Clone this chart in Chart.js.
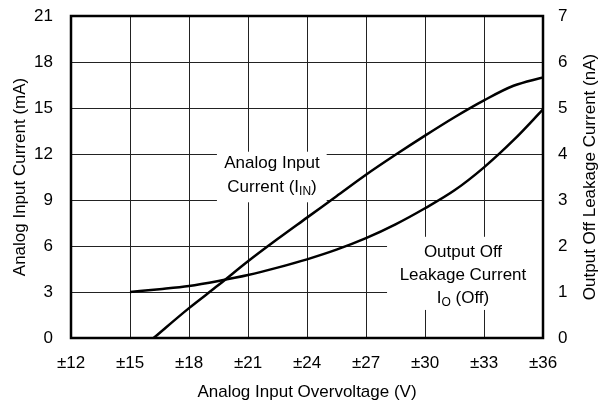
<!DOCTYPE html>
<html>
<head>
<meta charset="utf-8">
<script src="https://cdn.jsdelivr.net/npm/chart.js@4"></script>
<style>
  html, body { margin: 0; padding: 0; background: #fff; }
  #wrap { width: 602px; height: 403px; }
</style>
</head>
<body>
<div id="wrap"><canvas id="chart" width="602" height="403"></canvas></div>
<script>
// overvoltage (V) and analog input current (mA)
const inVolts = [16.2, 18, 19.5, 21, 22.5, 24, 25.5, 27, 28.5, 30, 31.5, 33, 34.5, 36];
const inCurrent = [0, 1.95, 3.45, 5.0, 6.45, 7.85, 9.25, 10.65, 11.95, 13.2, 14.4, 15.5, 16.45, 17.0];

// overvoltage (V) and output off leakage current (nA)
const offVolts = [15, 16.5, 18, 19.5, 21, 22.5, 24, 25.5, 27, 28.5, 30, 31.5, 33, 34.5, 36];
const offLeak = [1.0, 1.06, 1.13, 1.24, 1.37, 1.53, 1.71, 1.92, 2.17, 2.47, 2.82, 3.21, 3.71, 4.3, 4.97];

const xTicks = [12, 15, 18, 21, 24, 27, 30, 33, 36];
const FONT = 'Liberation Sans, Arial, Helvetica, sans-serif';

Chart.defaults.font.family = FONT;
Chart.defaults.font.size = 17;
Chart.defaults.color = '#000';

// draws a line of text where one part is a subscript, centred on cx
function drawSubText(ctx, parts, cx, cy) {
    let total = 0;
    parts.forEach(p => {
        ctx.font = (p.sub ? '12px ' : '17px ') + FONT;
        p.w = ctx.measureText(p.t).width;
        total += p.w;
    });
    let x = cx - total / 2;
    parts.forEach(p => {
        ctx.font = (p.sub ? '12px ' : '17px ') + FONT;
        ctx.textAlign = 'left';
        ctx.fillText(p.t, x, cy + (p.sub ? 5 : 0));
        x += p.w;
    });
}

const labelPlugin = {
    id: 'labels',
    beforeDatasetsDraw(chart) {
        const { ctx, scales: { x, y } } = chart;
        ctx.save();
        ctx.fillStyle = '#fff';
        // white boxes behind the curve labels
        let l = x.getPixelForValue(19.42), r = x.getPixelForValue(25.0);
        let t = y.getPixelForValue(12.15), b = y.getPixelForValue(8.85);
        ctx.fillRect(l, t, r - l, b - t);
        l = x.getPixelForValue(28.07); r = x.getPixelForValue(36);
        t = y.getPixelForValue(6.6); b = y.getPixelForValue(1.83);
        ctx.fillRect(l, t, r - l, b - t);
        ctx.restore();
    },
    afterDraw(chart) {
        const { ctx, chartArea: a, scales: { x, y } } = chart;
        ctx.save();
        ctx.fillStyle = '#000';
        ctx.textBaseline = 'middle';
        ctx.textAlign = 'center';
        ctx.font = '17px ' + FONT;

        let cx = x.getPixelForValue(22.22);
        ctx.fillText('Analog Input', cx, y.getPixelForValue(11.41));
        drawSubText(ctx, [{ t: 'Current (I' }, { t: 'IN', sub: true }, { t: ')' }],
            cx, y.getPixelForValue(9.85));

        cx = x.getPixelForValue(31.93);
        ctx.textAlign = 'center';
        ctx.font = '17px ' + FONT;
        ctx.fillText('Output Off', cx, y.getPixelForValue(5.61));
        ctx.fillText('Leakage Current', cx, y.getPixelForValue(4.11));
        drawSubText(ctx, [{ t: 'I' }, { t: 'O', sub: true }, { t: ' (Off)' }],
            cx, y.getPixelForValue(2.61));

        // right axis title, reading bottom to top
        ctx.translate(590, (a.top + a.bottom) / 2);
        ctx.rotate(-Math.PI / 2);
        ctx.textAlign = 'center';
        ctx.font = '17px ' + FONT;
        ctx.fillText('Output Off Leakage Current (nA)', 0, 0);
        ctx.restore();

        // frame
        ctx.save();
        ctx.strokeStyle = '#000';
        ctx.lineWidth = 2.5;
        ctx.strokeRect(a.left, a.top, a.right - a.left, a.bottom - a.top);
        ctx.restore();
    }
};

const gridStyle = { color: '#222', lineWidth: 1, drawTicks: false };

// fixed axis sizes so the plot area lands where the original one is
function fitY(width) {
    return s => {
        s.width = width;
        s.paddingTop = 0;
        s.paddingBottom = 0;
    };
}

new Chart(document.getElementById('chart').getContext('2d'), {
    type: 'line',
    data: {
        datasets: [
            {
                label: 'Analog Input Current',
                data: inVolts.map((v, i) => ({ x: v, y: inCurrent[i] })),
                yAxisID: 'y',
                borderColor: '#000',
                borderWidth: 2.5,
                pointRadius: 0,
                cubicInterpolationMode: 'monotone',
                fill: false
            },
            {
                label: 'Output Off Leakage Current',
                data: offVolts.map((v, i) => ({ x: v, y: offLeak[i] })),
                yAxisID: 'y1',
                borderColor: '#000',
                borderWidth: 2.5,
                pointRadius: 0,
                cubicInterpolationMode: 'monotone',
                fill: false
            }
        ]
    },
    options: {
        responsive: false,
        animation: false,
        layout: { padding: { top: 16, left: 0, right: 0, bottom: 0 } },
        plugins: {
            legend: { display: false },
            tooltip: { enabled: false }
        },
        scales: {
            x: {
                type: 'linear',
                min: 12,
                max: 36,
                afterBuildTicks: s => { s.ticks = xTicks.map(v => ({ value: v })); },
                afterFit: s => { s.height = 65; s.paddingLeft = 0; s.paddingRight = 0; },
                grid: gridStyle,
                border: { display: false },
                ticks: { padding: 15, maxRotation: 0, callback: v => '±' + v },
                title: {
                    display: true,
                    text: 'Analog Input Overvoltage (V)',
                    padding: { top: 0, bottom: 0 }
                }
            },
            y: {
                position: 'left',
                min: 0,
                max: 21,
                afterFit: fitY(71),
                grid: gridStyle,
                border: { display: false },
                ticks: { stepSize: 3, padding: 18 },
                title: {
                    display: true,
                    text: 'Analog Input Current (mA)',
                    padding: { top: 10, bottom: 0 }
                }
            },
            y1: {
                position: 'right',
                min: 0,
                max: 7,
                afterFit: fitY(59),
                grid: { drawOnChartArea: false, drawTicks: false },
                border: { display: false },
                ticks: { stepSize: 1, padding: 15 }
            }
        }
    },
    plugins: [labelPlugin]
});
</script>
</body>
</html>
